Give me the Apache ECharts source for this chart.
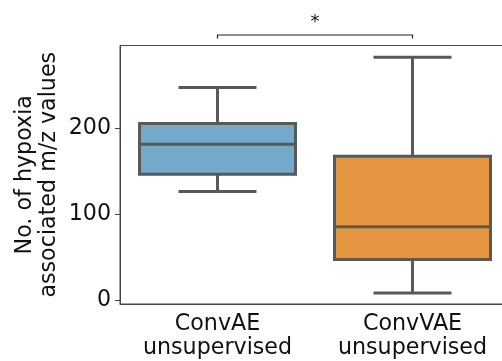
<!DOCTYPE html>
<html><head><meta charset="utf-8">
<script src="https://cdn.jsdelivr.net/npm/echarts@6/dist/echarts.min.js"></script>
<style>html,body{margin:0;padding:0;background:#fff}#c{width:502px;height:361px}</style>
</head><body><div id="c"></div>
<script>
const categories = ['ConvAE\nunsupervised', 'ConvVAE\nunsupervised'];
const whiskerLow = [126, 8];
const q1 = [146, 47];
const median = [181, 85];
const q3 = [205, 167];
const whiskerHigh = [247, 282];
const boxColors = ['#75a9c9', '#e3963f'];
const yTicks = [0, 100, 200];
const significance = '*';

const chart = echarts.init(document.getElementById('c'), null, {renderer: 'canvas'});
const edge = '#595959';
const data = categories.map((c, i) => [i, whiskerLow[i], q1[i], median[i], q3[i], whiskerHigh[i]]);

function renderItem(params, api) {
  const i = api.value(0);
  const band = api.size([1, 0])[0];
  const hw = band * 0.4, cw = band * 0.2;
  const p = k => api.coord([i, api.value(k)]);
  const lo = p(1), b1 = p(2), md = p(3), b3 = p(4), hi = p(5);
  const x = lo[0];
  const ls = {stroke: edge, lineWidth: 3};
  return {
    type: 'group',
    children: [
      {type: 'line', shape: {x1: x, y1: b3[1], x2: x, y2: hi[1]}, style: ls},
      {type: 'line', shape: {x1: x, y1: b1[1], x2: x, y2: lo[1]}, style: ls},
      {type: 'line', shape: {x1: x - cw, y1: hi[1], x2: x + cw, y2: hi[1]}, style: ls},
      {type: 'line', shape: {x1: x - cw, y1: lo[1], x2: x + cw, y2: lo[1]}, style: ls},
      {type: 'rect', shape: {x: x - hw, y: b3[1], width: 2 * hw, height: b1[1] - b3[1]},
        style: {fill: boxColors[i], stroke: edge, lineWidth: 3}},
      {type: 'line', shape: {x1: x - hw, y1: md[1], x2: x + hw, y2: md[1]}, style: ls}
    ]
  };
}

const font = 'DejaVu Sans';
const fs = 22.2;
chart.setOption({
  animation: false,
  grid: {left: 120, top: 45.5, right: -8, bottom: 57, outerBoundsMode: 'none', containLabel: false,
    show: true, borderColor: '#444', borderWidth: 1, backgroundColor: 'transparent'},
  xAxis: {
    type: 'category', data: categories,
    axisLine: {onZero: false, lineStyle: {color: '#444', width: 1}},
    axisTick: {alignWithLabel: true, length: 4, lineStyle: {color: '#444'}},
    axisLabel: {fontFamily: font, fontSize: fs, lineHeight: 24, color: '#111', margin: 8, interval: 0, hideOverlap: false},
    splitLine: {show: false}
  },
  yAxis: {
    type: 'value', min: -4.7, max: 295.7,
    name: 'No. of hypoxia\nassociated m/z values',
    nameLocation: 'middle', nameGap: 59, nameMoveOverlap: false,
    nameTextStyle: {fontFamily: font, fontSize: fs, lineHeight: 24, color: '#111'},
    axisLine: {show: true, lineStyle: {color: '#444', width: 1}},
    axisTick: {show: true, length: 5, customValues: yTicks, lineStyle: {color: '#444'}},
    axisLabel: {fontFamily: font, fontSize: fs, color: '#111', margin: 9, customValues: yTicks},
    splitLine: {show: false}
  },
  series: [{type: 'custom', renderItem: renderItem, data: data, encode: {x: 0, y: [1, 2, 3, 4, 5]}}]
});

// significance bracket between the two categories
const pA = chart.convertToPixel({xAxisIndex: 0, yAxisIndex: 0}, [0, 0]);
const pB = chart.convertToPixel({xAxisIndex: 0, yAxisIndex: 0}, [1, 0]);
const gridTop = 45.5;
const by = gridTop - 10.5;
chart.setOption({
  graphic: [
    {type: 'polyline', shape: {points: [[pA[0], by + 3.5], [pA[0], by], [pB[0], by], [pB[0], by + 3.5]]},
      style: {stroke: '#222', lineWidth: 1.2, fill: null}},
    {type: 'text', x: (pA[0] + pB[0]) / 2, y: by - 4,
      style: {text: significance, fontFamily: font, fontSize: 18, fill: '#111', align: 'center', verticalAlign: 'bottom'}}
  ]
});
</script></body></html>
